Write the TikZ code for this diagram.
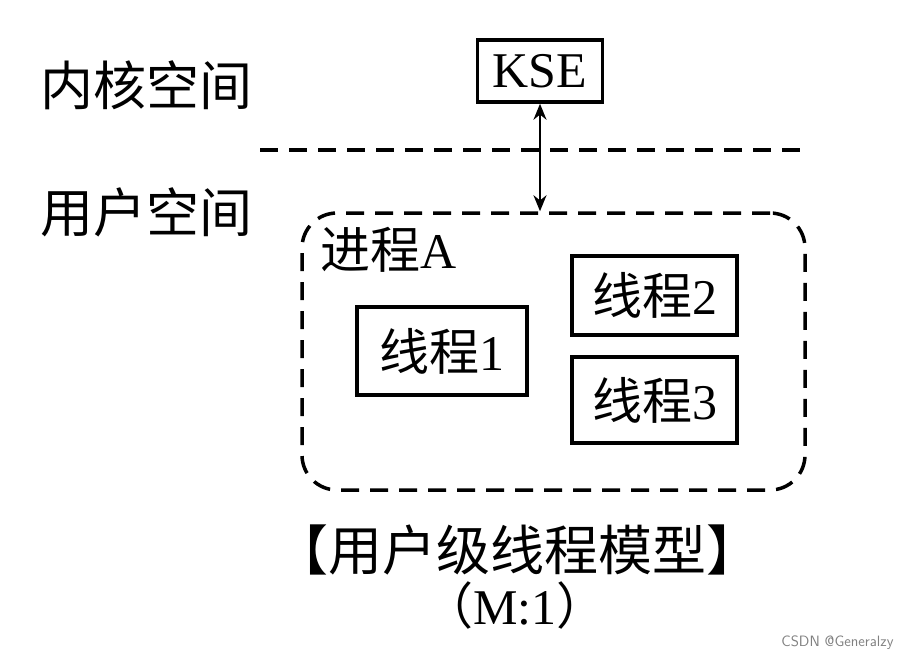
\documentclass[tikz,border=0pt]{standalone}
\usepackage{fontspec}
\setmainfont{Liberation Serif}
\newfontfamily\cjk{Noto Sans CJK SC}
\usetikzlibrary{arrows.meta}
\begin{document}
\begin{tikzpicture}[x=1pt,y=-1pt,
  box/.style={draw,line width=3.5pt,inner sep=0pt},
  lbl/.style={font=\cjk\fontsize{50}{54}\selectfont,inner sep=0pt},
  dsh/.style={line width=3.5pt,dash pattern=on 18pt off 11pt}]
\useasboundingbox[fill=white] (0,0) rectangle (903,661);
\node[font=\cjk\fontsize{53}{56}\selectfont,inner sep=0pt,anchor=west] (kern) at (40,85) {内核空间};
\node[font=\cjk\fontsize{53}{56}\selectfont,inner sep=0pt,anchor=west] (user) at (40,212) {用户空间};
\node[box,minimum width=125pt,minimum height=62pt,font=\fontsize{50}{54}\selectfont] (kse) at (540,71) {KSE};
\coordinate (dl) at (260,150); \coordinate (dr) at (805,150);
\draw[dsh] (dl) -- (dr);
\node[draw,dsh,rounded corners=35pt,minimum width=503pt,minimum height=277pt] (proc) at (553.5,351.5) {};
\draw[line width=2.5pt,{Stealth[length=16pt,width=13pt]}-{Stealth[length=16pt,width=13pt]}] (kse.south) -- (proc.north -| kse.south);
\node[lbl,anchor=west] (pa) at (320,250) {进程\fontspec{Liberation Serif}A};
\node[box,lbl,minimum width=170pt,minimum height=88pt] (t1) at (442,351) {线程\fontspec{Liberation Serif}1};
\node[box,lbl,minimum width=165pt,minimum height=79pt] (t2) at (654.5,295.5) {线程\fontspec{Liberation Serif}2};
\node[box,lbl,minimum width=165pt,minimum height=86pt] (t3) at (654.5,400) {线程\fontspec{Liberation Serif}3};
\node[font=\cjk\fontsize{54}{58}\selectfont,inner sep=0pt] (cap) at (517,550) {【用户级线程模型】};
\node[lbl] (ratio) at (515,605) {（\fontspec{Liberation Serif}M:1\cjk）};
\node[font=\sffamily\fontsize{15}{17}\selectfont,text=gray,anchor=east] (wm) at (897,643) {CSDN @Generalzy};
\end{tikzpicture}
\end{document}
